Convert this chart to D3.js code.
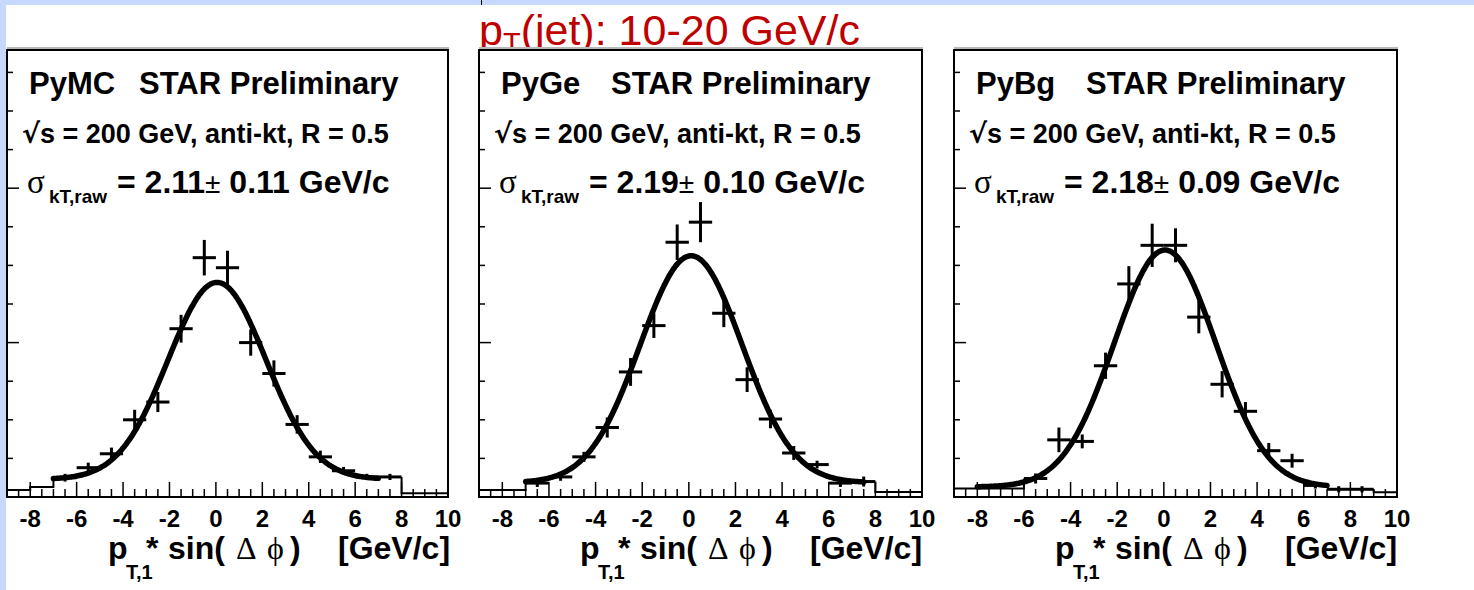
<!DOCTYPE html>
<html><head><meta charset="utf-8">
<script src="https://cdn.jsdelivr.net/npm/d3@7"></script>
<style>body{margin:0;background:#fff;} svg{display:block;}</style>
</head><body><svg id="c" width="1474" height="590"></svg>
<script>
// ---------------- data ----------------
const panelNames = ["PyMC", "PyGe", "PyBg"];
const sigmaValues = ["2.11", "2.19", "2.18"];
const sigmaErrors = ["0.11", "0.10", "0.09"];
const xTickValues = [-8, -6, -4, -2, 0, 2, 4, 6, 8, 10];
const titleText = "(jet): 10-20 GeV/c";

// PyMC
const binsMC   = [-6.5, -5.5, -4.5, -3.5, -2.5, -1.5, -0.5, 0.5, 1.5, 2.5, 3.5, 4.5, 5.5, 6.5, 7.5];
const valuesMC = [0.025, 0.038, 0.056, 0.100, 0.123, 0.218, 0.310, 0.297, 0.200, 0.160, 0.094, 0.052, 0.034, 0.026, 0.026];
const errorsMC = [0.005, 0.0065, 0.008, 0.013, 0.013, 0.018, 0.023, 0.022, 0.017, 0.017, 0.012, 0.008, 0.005, 0.004, 0.004];
const tailLeftBinsMC = [-8.5, -7.5];
const tailLeftValuesMC = [0.009, 0.013];
const tailRightBinsMC = [8.5, 9.5];
const tailRightValuesMC = [0.005, 0.005];

// PyGe
const binsGe   = [-6.5, -5.5, -4.5, -3.5, -2.5, -1.5, -0.5, 0.5, 1.5, 2.5, 3.5, 4.5, 5.5, 6.5, 7.5];
const valuesGe = [0.018, 0.026, 0.052, 0.090, 0.162, 0.222, 0.330, 0.356, 0.238, 0.152, 0.101, 0.057, 0.042, 0.018, 0.020];
const errorsGe = [0.005, 0.005, 0.0065, 0.013, 0.018, 0.016, 0.023, 0.026, 0.018, 0.016, 0.012, 0.009, 0.005, 0.005, 0.0065];
const tailLeftBinsGe = [-8.5, -7.5];
const tailLeftValuesGe = [0.009, 0.009];
const tailRightBinsGe = [8.5, 9.5];
const tailRightValuesGe = [0.0065, 0.0065];

// PyBg
const binsBg   = [-5.5, -4.5, -3.5, -2.5, -1.5, -0.5, 0.5, 1.5, 2.5, 3.5, 4.5, 5.5, 6.5, 7.5, 8.5];
const valuesBg = [0.024, 0.074, 0.072, 0.170, 0.276, 0.326, 0.326, 0.233, 0.146, 0.111, 0.060, 0.047, 0.015, 0.010, 0.010];
const errorsBg = [0.0065, 0.016, 0.009, 0.017, 0.023, 0.028, 0.022, 0.021, 0.017, 0.012, 0.010, 0.009, 0.004, 0.004, 0.004];
const tailLeftBinsBg = [-8.5, -7.5, -6.5];
const tailLeftValuesBg = [0.011, 0.011, 0.011];
const tailRightBinsBg = [9.5];
const tailRightValuesBg = [0.006];

// Gaussian + constant fits
const fitAmp   = [0.255, 0.294, 0.307];
const fitMean  = [0.05, 0.10, 0.05];
const fitSigma = [2.11, 2.19, 2.18];
const fitConst = [0.023, 0.0185, 0.013];
const fitLow   = [-7, -7, -8];
const fitHigh  = [7, 7.5, 7];

const binList   = [binsMC, binsGe, binsBg];
const valueList = [valuesMC, valuesGe, valuesBg];
const errorList = [errorsMC, errorsGe, errorsBg];
const tailLB = [tailLeftBinsMC, tailLeftBinsGe, tailLeftBinsBg];
const tailLV = [tailLeftValuesMC, tailLeftValuesGe, tailLeftValuesBg];
const tailRB = [tailRightBinsMC, tailRightBinsGe, tailRightBinsBg];
const tailRV = [tailRightValuesMC, tailRightValuesGe, tailRightValuesBg];

// ---------------- layout ----------------
const W = 1474, H = 590;
const panelLeft = [7, 479, 954];
const panelWidth = [441, 443, 443];
const plotTop = 50, plotBottom = 497;
const xDomain = [-9, 10];
const yDomain = [0, 0.579];
const SANS = "'Liberation Sans', Arial, Helvetica, sans-serif";
const SERIF = "'Liberation Serif', 'Times New Roman', serif";

const svg = d3.select("#c");
svg.append("rect").attr("width", W).attr("height", H).attr("fill", "#c6d9fc");
svg.append("rect").attr("x", 6).attr("y", 5).attr("width", W - 6).attr("height", H - 5).attr("fill", "#fff");
svg.append("line").attr("x1", 481.5).attr("x2", 481.5).attr("y1", 0).attr("y2", 5).attr("stroke", "#000").attr("stroke-width", 1);

// title
const title = svg.append("text").attr("x", 479).attr("y", 45)
  .attr("font-family", SANS).attr("font-size", 43).attr("fill", "#c00000");
title.append("tspan").text("p");
title.append("tspan").attr("font-size", 29).attr("dy", 8).text("T");
title.append("tspan").attr("dy", -8).text(titleText);

panelNames.forEach((name, i) => {
  const L = panelLeft[i], R = L + panelWidth[i];
  const x = d3.scaleLinear().domain(xDomain).range([L, R]);
  const y = d3.scaleLinear().domain(yDomain).range([plotBottom, plotTop]);
  const g = svg.append("g");

  // shadow + frame
  g.append("line").attr("x1", L).attr("x2", R + 1).attr("y1", plotTop - 2).attr("y2", plotTop - 2)
    .attr("stroke", "#b8b8b8").attr("stroke-width", 2);
  g.append("rect").attr("x", L).attr("y", plotTop).attr("width", R - L).attr("height", plotBottom - plotTop)
    .attr("fill", "#fff").attr("stroke", "#000").attr("stroke-width", 2);

  // x ticks (minor every 0.5, major at labelled values)
  const minorX = d3.range(-9, 10.001, 0.5);
  g.selectAll(".mx").data(minorX).join("line")
    .attr("x1", d => x(d)).attr("x2", d => x(d))
    .attr("y1", plotBottom).attr("y2", d => xTickValues.includes(d) ? plotBottom - 15 : plotBottom - 8)
    .attr("stroke", "#000").attr("stroke-width", 1.5);
  g.selectAll(".xl").data(xTickValues).join("text")
    .attr("x", d => x(d)).attr("y", 527).attr("text-anchor", "middle")
    .attr("font-family", SANS).attr("font-weight", "bold").attr("font-size", 24).text(d => d);

  // y ticks
  const yTicks = d3.range(0.05, 0.576, 0.05);
  g.selectAll(".yt").data(yTicks).join("line")
    .attr("x1", L).attr("x2", d => (Math.abs(d - 0.2) < 1e-6 || Math.abs(d - 0.4) < 1e-6) ? L + 12 : L + 6)
    .attr("y1", d => y(d)).attr("y2", d => y(d))
    .attr("stroke", "#000").attr("stroke-width", 1.5);

  // tail histogram steps
  const bins = binList[i], vals = valueList[i], errs = errorList[i];
  const lb = tailLB[i], lv = tailLV[i];
  let pts = [];
  lb.forEach((b, k) => { pts.push([x(b - 0.5), y(lv[k])]); pts.push([x(b + 0.5), y(lv[k])]); });
  pts.push([x(bins[0] - 0.5), y(vals[0])]);
  g.append("path").attr("d", d3.line()(pts)).attr("fill", "none").attr("stroke", "#000").attr("stroke-width", 2);
  const rb = tailRB[i], rv = tailRV[i];
  pts = [[x(bins[bins.length - 1] + 0.5), y(vals[vals.length - 1])]];
  rb.forEach((b, k) => { pts.push([x(b - 0.5), y(rv[k])]); pts.push([x(b + 0.5), y(rv[k])]); });
  g.append("path").attr("d", d3.line()(pts)).attr("fill", "none").attr("stroke", "#000").attr("stroke-width", 2);

  // data crosses
  bins.forEach((b, k) => {
    g.append("line").attr("x1", x(b - 0.5)).attr("x2", x(b + 0.5)).attr("y1", y(vals[k])).attr("y2", y(vals[k]))
      .attr("stroke", "#000").attr("stroke-width", 3);
    g.append("line").attr("x1", x(b)).attr("x2", x(b)).attr("y1", y(vals[k] - errs[k])).attr("y2", y(vals[k] + errs[k]))
      .attr("stroke", "#000").attr("stroke-width", 3);
  });

  // fit curve
  const fx = d3.range(fitLow[i], fitHigh[i] + 0.001, 0.05);
  const f = v => fitAmp[i] * Math.exp(-((v - fitMean[i]) ** 2) / (2 * fitSigma[i] ** 2)) + fitConst[i];
  g.append("path").attr("d", d3.line().x(d => x(d)).y(d => y(f(d))).curve(d3.curveBasis)(fx))
    .attr("fill", "none").attr("stroke", "#000").attr("stroke-width", 5.5).attr("stroke-linecap", "round");

  // texts
  g.append("text").attr("x", L + 22).attr("y", 94).attr("font-family", SANS)
    .attr("font-weight", "bold").attr("font-size", 31).text(name);
  g.append("text").attr("x", L + 132).attr("y", 94).attr("font-family", SANS)
    .attr("font-weight", "bold").attr("font-size", 31).text("STAR Preliminary");

  const t2 = g.append("text").attr("x", L + 15).attr("y", 143).attr("font-family", SANS)
    .attr("font-weight", "bold").attr("font-size", 27);
  t2.append("tspan").attr("font-family", "'DejaVu Sans', sans-serif").attr("font-weight", "bold").text("√");
  t2.append("tspan").text("s = 200 GeV, anti-kt, R = 0.5");

  const t3 = g.append("text").attr("x", L + 20).attr("y", 193).attr("font-family", SANS)
    .attr("font-weight", "bold").attr("font-size", 32);
  t3.append("tspan").attr("font-family", SERIF).attr("font-weight", "normal").attr("font-size", 33).text("σ");
  t3.append("tspan").attr("x", L + 42).attr("dy", 10).attr("font-size", 19).text("kT,raw");
  t3.append("tspan").attr("x", L + 110).attr("dy", -10).text("= " + sigmaValues[i]);
  t3.append("tspan").attr("font-weight", "normal").attr("font-size", 28).text("±");
  t3.append("tspan").text(" " + sigmaErrors[i] + " GeV/c");

  // axis title
  const at = g.append("text").attr("y", 559).attr("font-family", SANS).attr("font-weight", "bold").attr("font-size", 32);
  at.append("tspan").attr("x", L + 101).text("p");
  at.append("tspan").attr("x", L + 119).attr("dy", 20).attr("font-size", 20).text("T,1");
  at.append("tspan").attr("x", L + 139).attr("dy", -20).text("*");
  at.append("tspan").attr("x", L + 161).text("sin(");
  at.append("tspan").attr("x", L + 229).attr("font-weight", "normal").attr("font-family", SERIF).text("Δ");
  at.append("tspan").attr("x", L + 260).attr("font-weight", "normal").attr("font-family", SERIF).text("ϕ");
  at.append("tspan").attr("x", L + 283).text(")");
  at.append("tspan").attr("x", L + 331).text("[GeV/c]");
});
</script></body></html>
